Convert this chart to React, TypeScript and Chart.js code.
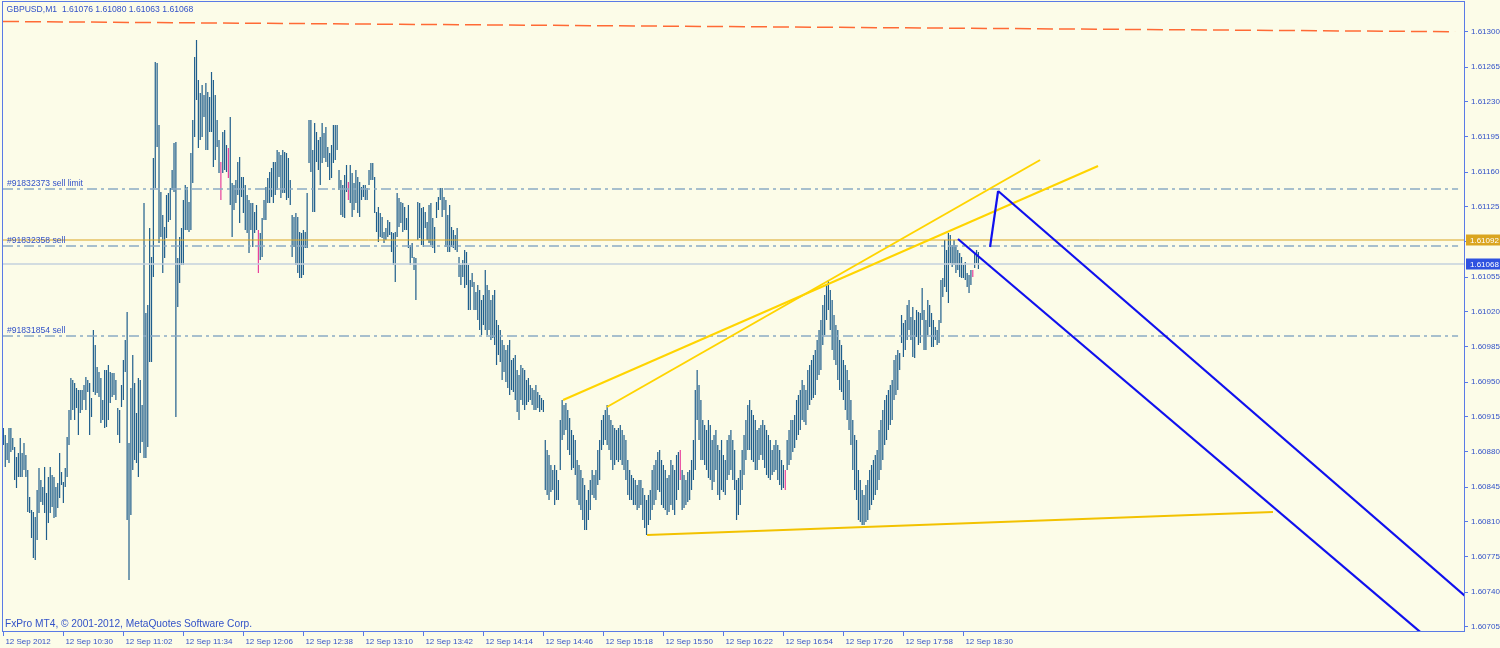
import React, { useEffect, useRef } from "react";
import { Chart, registerables } from "chart.js";
Chart.register(...registerables);

// ---------- data ----------
const symbol = "GBPUSD,M1";
const lastOHLC = [1.61076, 1.6108, 1.61063, 1.61068];
const BASE = 1.6; // bar prices stored as points (0.00001) above 1.60000

const highs = [
  904, 897, 889, 904, 904, 894, 885, 875, 879, 894,
  879, 889, 877, 862, 835, 822, 820, 815, 842, 864,
  852, 845, 865, 839, 855, 865, 857, 855, 845, 849,
  879, 860, 850, 864, 895, 922, 954, 952, 949, 944,
  942, 942, 942, 947, 955, 952, 949, 934, 1002, 987,
  965, 960, 954, 932, 962, 962, 967, 960, 959, 959,
  952, 924, 922, 947, 972, 992, 1020, 889, 944, 977,
  949, 919, 954, 952, 927, 1129, 1019, 1027, 1104, 1075,
  1174, 1270, 1269, 1207, 1140, 1117, 1105, 1137, 1139, 1144,
  1162, 1189, 1190, 1074, 1095, 1104, 1132, 1147, 1145, 1130,
  1179, 1212, 1275, 1292, 1252, 1239, 1247, 1237, 1249, 1240,
  1235, 1260, 1252, 1237, 1212, 1192, 1170, 1200, 1202, 1187,
  1184, 1215, 1149, 1147, 1152, 1170, 1175, 1155, 1155, 1147,
  1137, 1132, 1129, 1129, 1120, 1127, 1102, 1099, 1114, 1132,
  1145, 1154, 1160, 1164, 1170, 1170, 1182, 1180, 1177, 1182,
  1180, 1179, 1174, 1152, 1117, 1115, 1119, 1115, 1100, 1099,
  1102, 1100, 1139, 1212, 1212, 1182, 1209, 1200, 1192, 1195,
  1209, 1199, 1205, 1185, 1179, 1187, 1207, 1207, 1207, 1162,
  1152, 1147, 1157, 1167, 1150, 1167, 1159, 1149, 1162, 1155,
  1150, 1145, 1147, 1147, 1144, 1162, 1169, 1169, 1155, 1120,
  1125, 1119, 1115, 1100, 1104, 1112, 1110, 1100, 1099, 1100,
  1139, 1134, 1130, 1129, 1125, 1114, 1127, 1087, 1089, 1075,
  1074, 1130, 1129, 1124, 1125, 1120, 1110, 1127, 1129, 1114,
  1105, 1130, 1135, 1144, 1144, 1135, 1132, 1117, 1127, 1105,
  1102, 1097, 1104, 1075, 1067, 1072, 1082, 1080, 1067, 1052,
  1059, 1050, 1040, 1047, 1042, 1032, 1037, 1062, 1047, 1042,
  1032, 1037, 1042, 1012, 1007, 1002, 992, 987, 982, 987,
  992, 972, 974, 977, 962, 957, 967, 964, 962, 952,
  954, 947, 944, 942, 947, 940, 937, 934, 932, 892,
  882, 877, 867, 862, 867, 862, 852, 912, 932, 927,
  929, 922, 914, 902, 897, 892, 872, 867, 862, 854,
  847, 832, 842, 852, 862, 857, 862, 882, 892, 912,
  917, 922, 927, 917, 912, 907, 904, 902, 904, 907,
  902, 897, 892, 872, 862, 857, 854, 852, 847, 852,
  852, 844, 837, 832, 837, 842, 862, 867, 872, 880,
  882, 872, 867, 862, 854, 857, 872, 867, 862, 877,
  880, 882, 862, 857, 852, 860, 862, 872, 892, 942,
  962, 947, 932, 912, 907, 902, 912, 907, 892, 897,
  902, 887, 882, 892, 877, 872, 892, 897, 902, 892,
  882, 852, 854, 862, 882, 897, 912, 927, 932, 922,
  917, 912, 902, 904, 907, 912, 907, 902, 897, 892,
  882, 887, 892, 887, 882, 872, 867, 862, 892, 902,
  912, 912, 917, 932, 937, 942, 952, 947, 942, 962,
  967, 972, 977, 982, 992, 1002, 1012, 1027, 1037, 1047,
  1052, 1042, 1032, 1017, 1007, 1002, 992, 987, 972, 967,
  962, 952, 932, 912, 897, 892, 862, 852, 842, 837,
  847, 852, 862, 867, 872, 877, 882, 902, 912, 922,
  932, 937, 942, 947, 952, 972, 977, 982, 979, 1017,
  1009, 1012, 1027, 1032, 1015, 1025, 1012, 1022, 1020, 1019,
  1044, 1022, 1012, 1032, 1027, 1019, 1012, 1005, 1002, 1012,
  1052, 1054, 1092, 1082, 1099, 1097, 1087, 1092, 1087, 1082,
  1079, 1075, 1067, 1070, 1059, 1057, 1062, 1062, 1079, 1082,
  1080,
];

const lows = [
  887, 865, 872, 869, 880, 882, 852, 844, 855, 855,
  855, 862, 855, 820, 819, 794, 774, 772, 792, 819,
  830, 827, 819, 792, 809, 819, 825, 814, 815, 824,
  834, 847, 829, 845, 855, 887, 912, 922, 912, 924,
  897, 919, 922, 932, 922, 940, 897, 915, 940, 937,
  939, 935, 909, 912, 904, 905, 912, 929, 935, 937,
  932, 897, 889, 925, 932, 960, 812, 752, 817, 862,
  872, 869, 855, 879, 890, 874, 874, 885, 970, 970,
  1055, 1144, 1185, 1089, 1095, 1059, 1074, 1094, 1110, 1112,
  1142, 1140, 915, 1025, 1049, 1067, 1067, 1102, 1102, 1100,
  1102, 1149, 1195, 1232, 1184, 1192, 1195, 1215, 1182, 1182,
  1200, 1200, 1165, 1172, 1185, 1159, 1132, 1159, 1162, 1160,
  1154, 1127, 1095, 1122, 1129, 1137, 1109, 1135, 1119, 1102,
  1099, 1079, 1102, 1085, 1099, 1102, 1059, 1072, 1075, 1112,
  1112, 1129, 1129, 1135, 1129, 1137, 1142, 1155, 1134, 1139,
  1139, 1132, 1134, 1127, 1075, 1085, 1067, 1059, 1054, 1054,
  1057, 1084, 1084, 1169, 1160, 1120, 1120, 1170, 1162, 1147,
  1169, 1174, 1170, 1165, 1152, 1154, 1169, 1172, 1182, 1142,
  1117, 1115, 1114, 1140, 1132, 1129, 1115, 1122, 1129, 1119,
  1115, 1132, 1135, 1132, 1132, 1147, 1152, 1152, 1119, 1100,
  1090, 1095, 1094, 1089, 1092, 1095, 1097, 1080, 1067, 1050,
  1095, 1105, 1109, 1100, 1102, 1102, 1084, 1067, 1074, 1062,
  1032, 1092, 1094, 1087, 1085, 1104, 1092, 1089, 1087, 1084,
  1079, 1114, 1122, 1132, 1115, 1122, 1085, 1080, 1080, 1085,
  1084, 1082, 1080, 1055, 1047, 1055, 1044, 1047, 1022, 1022,
  1045, 1022, 1022, 1012, 1002, 997, 1007, 1002, 997, 1002,
  992, 994, 987, 967, 977, 970, 952, 960, 950, 944,
  937, 942, 940, 932, 920, 912, 932, 927, 922, 927,
  930, 932, 927, 922, 922, 924, 920, 922, 920, 842,
  837, 832, 840, 842, 827, 832, 832, 862, 892, 897,
  902, 882, 877, 862, 864, 857, 832, 827, 822, 812,
  802, 802, 812, 822, 837, 834, 832, 847, 852, 882,
  887, 892, 887, 882, 872, 862, 867, 872, 870, 872,
  867, 862, 852, 837, 832, 832, 827, 827, 822, 824,
  827, 812, 804, 797, 807, 812, 822, 827, 832, 842,
  840, 827, 824, 822, 817, 820, 827, 822, 817, 832,
  842, 852, 822, 824, 827, 830, 832, 842, 852, 862,
  912, 892, 872, 872, 867, 862, 854, 852, 842, 850,
  862, 837, 832, 842, 840, 837, 852, 857, 862, 852,
  842, 812, 817, 827, 842, 857, 872, 882, 882, 872,
  870, 862, 862, 872, 877, 872, 864, 857, 854, 852,
  857, 860, 862, 852, 847, 842, 844, 842, 862, 867,
  872, 880, 884, 892, 897, 902, 912, 910, 907, 922,
  927, 932, 934, 937, 952, 957, 962, 987, 997, 1012,
  1022, 1002, 982, 972, 967, 952, 942, 940, 932, 922,
  912, 902, 887, 862, 842, 832, 812, 810, 807, 807,
  810, 812, 822, 827, 832, 837, 842, 852, 862, 872,
  887, 892, 902, 907, 912, 932, 937, 942, 962, 989,
  975, 982, 992, 1002, 992, 975, 974, 995, 987, 989,
  1012, 982, 982, 997, 1005, 985, 985, 992, 987, 989,
  1009, 1035, 1045, 1040, 1029, 1069, 1065, 1067, 1059, 1062,
  1055, 1054, 1054, 1052, 1045, 1039, 1047, 1055, 1064, 1069,
  1063,
];

const pinkBars = [116, 120, 136, 184, 361, 417, 517];

const timeLabels = [
  "12 Sep 2012", "12 Sep 10:30", "12 Sep 11:02", "12 Sep 11:34", "12 Sep 12:06",
  "12 Sep 12:38", "12 Sep 13:10", "12 Sep 13:42", "12 Sep 14:14", "12 Sep 14:46",
  "12 Sep 15:18", "12 Sep 15:50", "12 Sep 16:22", "12 Sep 16:54", "12 Sep 17:26",
  "12 Sep 17:58", "12 Sep 18:30",
];
const barsPerLabel = 32;

const priceTicks = [
  1.60705, 1.6074, 1.60775, 1.6081, 1.60845, 1.6088, 1.60915, 1.6095, 1.60985,
  1.6102, 1.61055, 1.6109, 1.61125, 1.6116, 1.61195, 1.6123, 1.61265, 1.613,
];

const askPrice = 1.61092;
const bidPrice = 1.61068;
const orderLabels = ["#91832373 sell limit", "#91832358 sell", "#91831854 sell"];
const orderPrices = [1.61143, 1.61086, 1.60996];

// drawn objects: [bar index, price]
const yellowTrend1 = [[298.5, 1.60932], [583.8, 1.61166]];
const yellowTrend2 = [[321.9, 1.60925], [552.9, 1.61172]];
const supportLine = [[343.3, 1.60797], [677.1, 1.6082]];
const channelLower = [[509.1, 1.61093], [779.5, 1.60662]];
const channelUpper = [[530.5, 1.61141], [779.5, 1.60736]];
const channelLink = [[526.2, 1.61085], [530.5, 1.61141]];
const dashedTrend = [[-0.2, 1.613105], [774.2, 1.613003]];
const orderLineEnd = 775.8;

const copyright = "FxPro MT4, \u00A9 2001-2012, MetaQuotes Software Corp.";

// ---------- styles ----------
const BG = "#fcfce8";
const FRAME = "#5a7ae6";
const TEXT = "#3352c8";
const BAR = "#1f5e8c";
const PINK = "#e8409c";
const X_MIN = -0.2;
const X_MAX = 779.5;
const Y_MIN = 1.607;
const Y_MAX = 1.6133;
const FONT = '"Liberation Sans", Arial, sans-serif';

const toPrice = (v: number) => +(BASE + v / 100000).toFixed(5);

const seg = (pts: number[][], color: string, width: number, order: number, dash: number[] = []) => ({
  type: "line" as const,
  data: pts.map(([x, y]) => ({ x, y })),
  borderColor: color,
  borderWidth: width,
  borderDash: dash,
  pointRadius: 0,
  pointHoverRadius: 0,
  fill: false,
  tension: 0,
  order,
});

const overlayPlugin = {
  id: "mt4overlay",
  beforeDraw(chart: any) {
    const { ctx, width, height } = chart;
    ctx.save();
    ctx.fillStyle = BG;
    ctx.fillRect(0, 0, width, height);
    ctx.restore();
  },
  afterDraw(chart: any) {
    const { ctx, chartArea: a, scales } = chart;
    ctx.save();
    ctx.strokeStyle = FRAME;
    ctx.lineWidth = 1;
    ctx.strokeRect(a.left - 0.5, a.top - 0.5, a.right - a.left, a.bottom - a.top);

    ctx.fillStyle = TEXT;
    ctx.textAlign = "left";
    ctx.textBaseline = "middle";
    ctx.font = `8.6px ${FONT}`;
    ctx.fillText(`${symbol}  ${lastOHLC.map((v) => v.toFixed(5)).join(" ")}`, 6.5, 10);
    orderLabels.forEach((t, k) => {
      const y = scales.y.getPixelForValue(orderPrices[k]);
      ctx.fillText(t, 7, y - 5.4);
    });
    ctx.font = `10.2px ${FONT}`;
    ctx.fillText(copyright, 5, a.bottom - 7.5);

    const box = (price: number, color: string) => {
      const y = Math.round(scales.y.getPixelForValue(price));
      ctx.fillStyle = color;
      ctx.fillRect(a.right + 1, y - 5.5, chart.width - a.right - 1, 11);
      ctx.fillStyle = "#ffffff";
      ctx.font = `8px ${FONT}`;
      ctx.fillText(price.toFixed(5), a.right + 5, y + 0.5);
    };
    box(askPrice, "#daa520");
    box(bidPrice, "#2f52e0");
    ctx.restore();
  },
};

export default function App() {
  const ref = useRef<HTMLCanvasElement | null>(null);

  useEffect(() => {
    if (!ref.current) return;
    const barData = highs.map((h, i) => ({ x: i, y: [toPrice(lows[i]), toPrice(h)] }));
    const pink = new Set(pinkBars);
    const datasets: any[] = [
      {
        type: "bar",
        data: barData,
        backgroundColor: (c: any) => (pink.has(c.dataIndex) ? PINK : BAR),
        borderWidth: 0,
        barThickness: 1.2,
        inflateAmount: 0,
        order: 6,
      },
      ...orderPrices.map((p) =>
        seg([[X_MIN, p], [orderLineEnd, p]], "#8aaac4", 1.5, 4, [10, 4, 3, 4])
      ),
      seg([[X_MIN, bidPrice], [X_MAX, bidPrice]], "#c5d2de", 1.5, 4),
      seg([[X_MIN, askPrice], [X_MAX, askPrice]], "#daa520", 1, 3),
      seg(dashedTrend, "#ff6a35", 1.5, 3, [16, 6]),
      seg(yellowTrend1, "#ffd400", 2, 2),
      seg(yellowTrend2, "#ffd400", 2, 2),
      seg(supportLine, "#f2c200", 2, 2),
      seg(channelLower, "#1010ee", 2.2, 1),
      seg(channelUpper, "#1010ee", 2.2, 1),
      seg(channelLink, "#1010ee", 2.2, 1),
    ];

    const chart = new Chart(ref.current, {
      type: "bar",
      data: { datasets },
      options: {
        animation: false,
        responsive: false,
        devicePixelRatio: 1,
        events: [],
        layout: { padding: { left: 3, top: 2, right: 0, bottom: 0 } },
        plugins: { legend: { display: false }, tooltip: { enabled: false } },
        scales: {
          x: {
            type: "linear",
            min: X_MIN,
            max: X_MAX,
            offset: false,
            grid: { offset: false, drawOnChartArea: false, drawTicks: true, tickLength: 4, color: FRAME },
            border: { display: false },
            afterBuildTicks: (s: any) => {
              s.ticks = timeLabels.map((_, k) => ({ value: k * barsPerLabel }));
            },
            afterFit: (s: any) => {
              s.height = 16;
              s.paddingLeft = 0;
              s.paddingRight = 0;
            },
            ticks: {
              autoSkip: false,
              maxRotation: 0,
              minRotation: 0,
              align: "start",
              labelOffset: 2,
              padding: 1,
              color: TEXT,
              font: { family: FONT, size: 8 },
              callback: (_v: any, idx: number) => timeLabels[idx],
            },
          },
          y: {
            type: "linear",
            position: "right",
            min: Y_MIN,
            max: Y_MAX,
            grid: { drawOnChartArea: false, drawTicks: true, tickLength: 3, color: FRAME },
            border: { display: false },
            afterBuildTicks: (s: any) => {
              s.ticks = priceTicks.map((v) => ({ value: v }));
            },
            afterFit: (s: any) => {
              s.width = 35;
              s.paddingTop = 0;
              s.paddingBottom = 0;
            },
            ticks: {
              autoSkip: false,
              padding: 3,
              color: TEXT,
              font: { family: FONT, size: 8 },
              callback: (v: any) => Number(v).toFixed(5),
            },
          },
        },
      } as any,
      plugins: [overlayPlugin],
    });
    return () => chart.destroy();
  }, []);

  return (
    <div style={{ position: "fixed", left: 0, top: 0, width: 1500, height: 648 }}>
      <canvas ref={ref} width={1500} height={648} style={{ display: "block" }} />
    </div>
  );
}
